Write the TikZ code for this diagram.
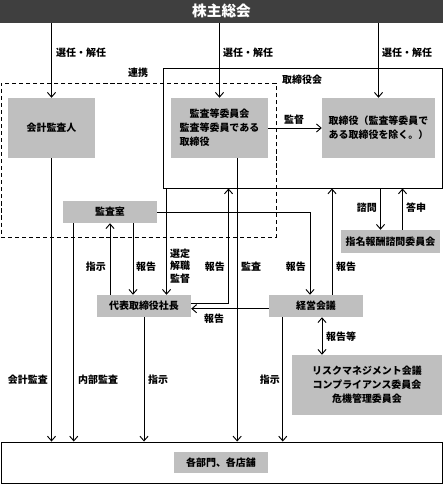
\documentclass[tikz,border=0pt]{standalone}
\usepackage{fontspec}
\setmainfont{Noto Sans CJK JP}
\usepackage{xcolor}
\usetikzlibrary{arrows.meta, positioning}

\definecolor{boxgray}{HTML}{BFBFBF}
\definecolor{bargray}{HTML}{3F3F3F}
\newcommand{\lblfont}{\fontsize{8.5}{12}\selectfont\bfseries}

\begin{document}
\begin{tikzpicture}[
    x=0.03cm, y=-0.03cm,
    box/.style={rectangle, fill=boxgray, inner sep=0pt, align=center, font=\lblfont},
    frame/.style={rectangle, draw, line width=0.8pt, inner sep=0pt},
    lbl/.style={inner sep=0pt, font=\lblfont},
    arrow/.style={-{Straight Barb[length=4pt,width=7pt]}, line width=0.8pt},
    both/.style={{Straight Barb[length=4pt,width=7pt]}-{Straight Barb[length=4pt,width=7pt]}, line width=0.8pt}
]
\useasboundingbox (0,0) rectangle (443,484);

% Frames
\node[frame] (board) at (302.5,128) [minimum width=8.37cm, minimum height=3.6cm] {};
\node[frame, dashed, dash pattern=on 3.5pt off 2.5pt] (coop) at (138.5,160) [minimum width=8.25cm, minimum height=4.62cm] {};
\node[frame, fill=white] (dept) at (221.5,462.5) [minimum width=13.23cm, minimum height=1.23cm] {};

% Top bar
\node[rectangle, fill=bargray, text=white, inner sep=0pt, font=\fontsize{12.5}{14}\selectfont\bfseries,
      minimum width=13.29cm, minimum height=0.68cm] (top) at (221.5,11.3) {株主総会};

% Boxes
\node[box, minimum width=2.61cm, minimum height=1.8cm] (audit) at (51.5,128) {会計監査人};
\node[box, align=left, minimum width=2.91cm, minimum height=1.8cm] (acb) at (219.5,128)
    {\makebox[8em]{監査等委員会}\\監査等委員である\\取締役};
\node[box, align=left, minimum width=3.39cm, minimum height=1.8cm] (dir) at (378.5,128)
    {取締役（監査等委員で\\ある取締役を除く。）};
\node[box, minimum width=2.82cm, minimum height=0.66cm] (office) at (110,212) {監査室};
\node[box, minimum width=2.82cm, minimum height=0.66cm] (ceo) at (144,306) {代表取締役社長};
\node[box, minimum width=2.82cm, minimum height=0.66cm] (mgmt) at (316,306) {経営会議};
\node[box, minimum width=2.97cm, minimum height=0.69cm] (nom) at (390.5,241.5) {指名報酬諮問委員会};
\node[box, minimum width=4.5cm, minimum height=1.8cm] (risk) at (367,385)
    {リスクマネジメント会議\\コンプライアンス委員会\\危機管理委員会};
\node[box, minimum width=2.82cm, minimum height=0.63cm] (shop) at (221,462.5) {各部門、各店舗};

% Connector points
\coordinate (ia) at ([xshift=0.33cm]office.south west);
\coordinate (rp) at ([xshift=0.69cm]office.south);
\coordinate (sd) at ([xshift=0.12cm]board.south west);
\coordinate (rb) at ([xshift=1.98cm]board.south west);
\coordinate (ka) at ([xshift=0.53cm]acb.south);
\coordinate (om) at ([xshift=-0.18cm]mgmt.north);
\coordinate (mc) at ([yshift=-0.08cm]mgmt.west);
\coordinate (mb) at ([xshift=0.48cm]mgmt.north);
\coordinate (ms) at ([xshift=0.42cm]mgmt.south west);
\coordinate (mr) at ([xshift=0.18cm]mgmt.south);
\coordinate (cs) at ([xshift=-0.3cm]nom.north);
\coordinate (ts) at ([xshift=0.36cm]nom.north);

% Arrows from the shareholders
\draw[arrow] (top.south -| audit.north) -- (audit.north);
\draw[arrow] (top.south -| acb.north) -- (acb.north);
\draw[arrow] (top.south -| dir.north) -- (dir.north);

% Arrows inside
\draw[arrow] (acb.east) -- (dir.west);
\draw[arrow] (audit.south) -- (audit.south |- dept.north);
\draw[arrow] (ia) -- (ia |- dept.north);
\draw[arrow] (ceo.north -| office.south) -- (office.south);
\draw[arrow] (rp) -- (rp |- ceo.north);
\draw[arrow] (ceo.south) -- (ceo.south |- dept.north);
\draw[arrow] (sd) -- (sd |- ceo.north);
\draw[arrow] ([yshift=0.09cm]ceo.east) -| (rb);
\draw[arrow] (ka) -- (ka |- dept.north);
\draw[arrow] (office.east) -| (om);
\draw[arrow] (mc) -- (mc -| ceo.east);
\draw[arrow] (mb) -- (mb |- board.south);
\draw[arrow] (ms) -- (ms |- dept.north);
\draw[both] (mr) -- (mr |- risk.north);
\draw[arrow] (cs |- board.south) -- (cs);
\draw[arrow] (ts) -- (ts |- board.south);

% Labels
\node[lbl, anchor=west] (sel1) at (56,53) {選任・解任};
\node[lbl, anchor=west] (sel2) at (223,53) {選任・解任};
\node[lbl, anchor=west] (sel3) at (382,53) {選任・解任};
\node[lbl] (coopl) at (138,73) {連携};
\node[lbl, anchor=west] (boardl) at (282,80) {取締役会};
\node[lbl] (supv) at (294,120) {監督};
\node[lbl, anchor=east] (acct) at (48,380) {会計監査};
\node[lbl, anchor=west] (inner) at (78,380) {内部監査};
\node[lbl, anchor=west] (inst1) at (148,380) {指示};
\node[lbl, anchor=east] (inst2) at (280,380) {指示};
\node[lbl, anchor=east] (inst3) at (106,267) {指示};
\node[lbl, anchor=west] (rep1) at (136,267) {報告};
\node[lbl, anchor=west, align=left, font=\fontsize{8.5}{10.6}\selectfont\bfseries] (appt) at (170,266) {選定\\解職\\監督};
\node[lbl, anchor=east] (rep2) at (225,267) {報告};
\node[lbl, anchor=west] (insp) at (241,267) {監査};
\node[lbl, anchor=east] (rep3) at (306,267) {報告};
\node[lbl, anchor=west] (rep4) at (336,267) {報告};
\node[lbl, anchor=east] (cons) at (377,208) {諮問};
\node[lbl, anchor=west] (answ) at (406,208) {答申};
\node[lbl] (rep5) at (214,319) {報告};
\node[lbl, anchor=west] (rep6) at (326,337) {報告等};

\end{tikzpicture}
\end{document}
